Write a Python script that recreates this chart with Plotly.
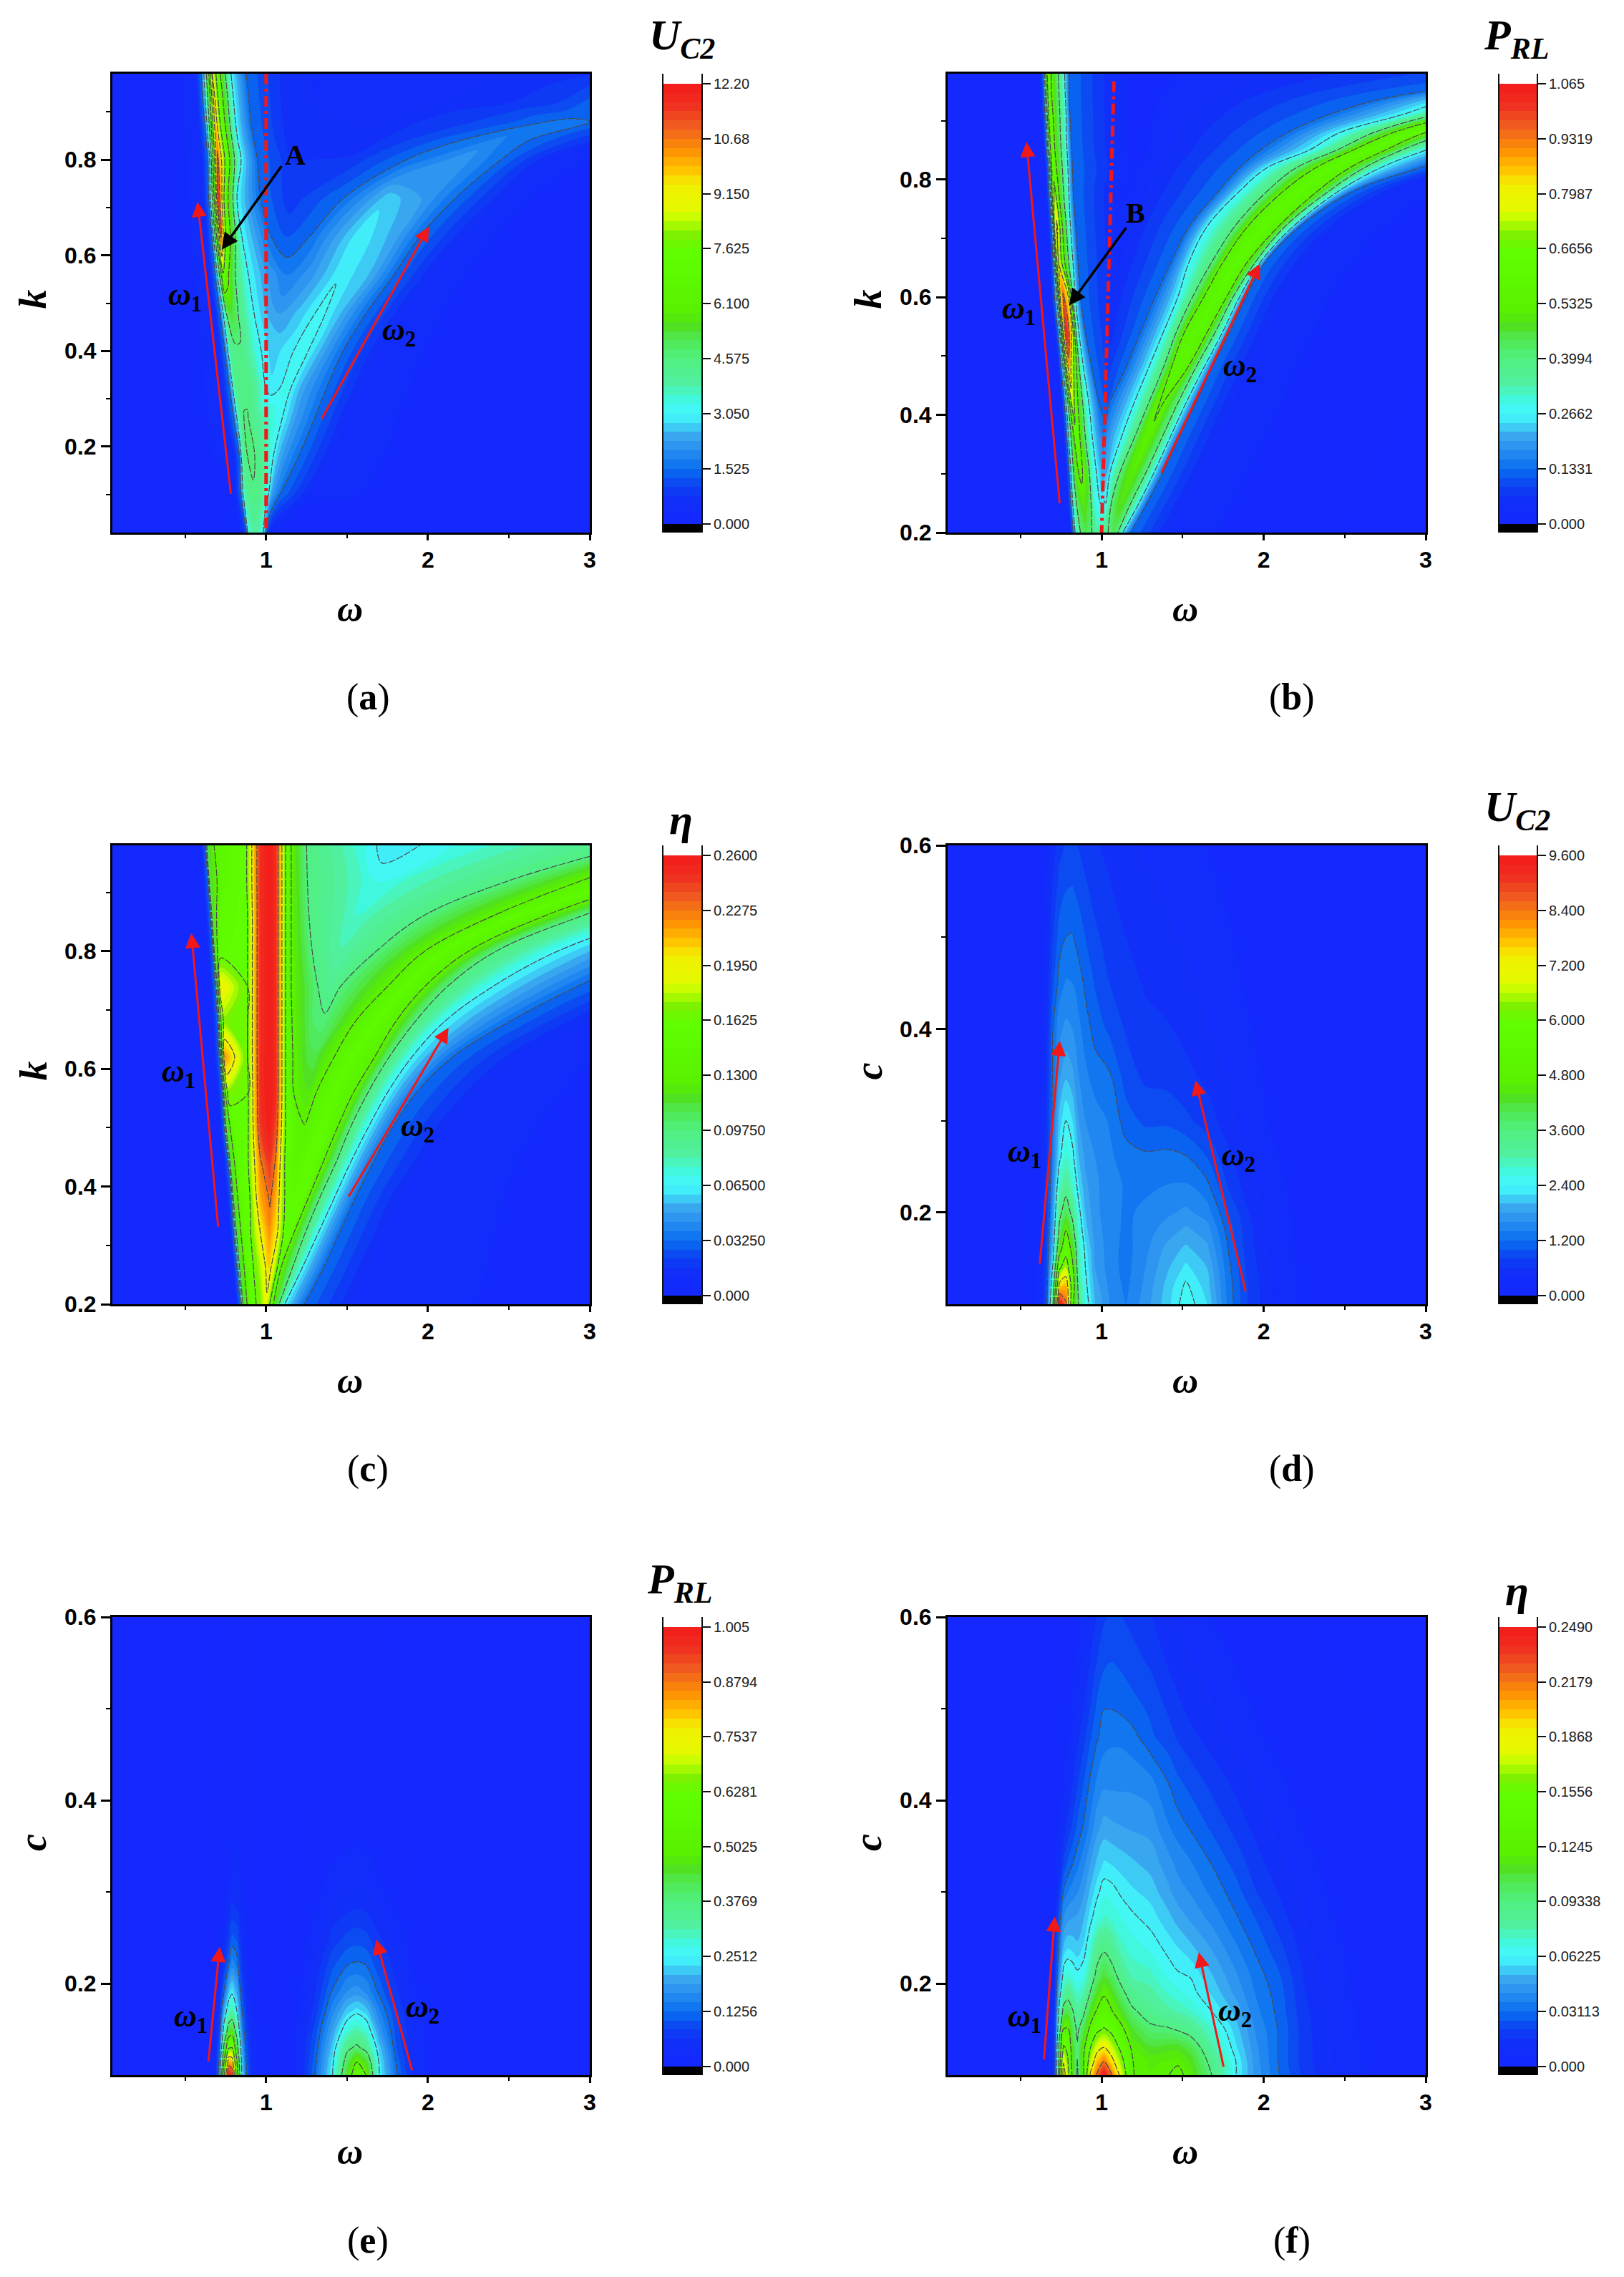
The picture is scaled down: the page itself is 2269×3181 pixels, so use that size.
import plotly.graph_objects as go

# ---------- panel (a): U_C2 over (omega, k) ----------
A_K = [.02,.10,.18,.26,.32,.40,.48,.56,.64,.72,.80,.84,.88,.92,.98]
A_OMEGA = [
 [.05,.82,.865,.88,.885,.90,.92,.94,.96,.98,.99,1.0,1.01,1.02,1.05,1.15,3],
 [.05,.80,.845,.86,.875,.90,.93,.95,.97,.99,1.0,1.015,1.035,1.06,1.085,1.3,3],
 [.05,.79,.835,.85,.865,.885,.905,.93,.96,1.0,1.025,1.045,1.08,1.12,1.2,1.45,3],
 [.05,.74,.80,.825,.85,.865,.875,.89,.93,.98,1.03,1.07,1.10,1.18,1.30,1.55,3],
 [.05,.72,.775,.80,.82,.86,.90,.95,1.0,1.04,1.08,1.12,1.15,1.22,1.37,1.63,3],
 [.05,.70,.745,.77,.785,.82,.85,.89,.97,1.03,1.09,1.17,1.215,1.26,1.475,1.75,3],
 [.05,.67,.715,.74,.755,.78,.80,.83,.925,1.0,1.08,1.2,1.34,1.47,1.62,1.9,3],
 [.05,.64,.685,.715,.735,.76,.785,.81,.89,1.0,1.13,1.28,1.46,1.65,1.79,2.08,3],
 [.05,.62,.665,.70,.72,.745,.77,.80,.85,1.03,1.13,1.27,1.58,1.8,1.95,2.3,3],
 [.05,.6,.645,.685,.705,.74,.765,.795,.82,.965,1.15,1.48,1.75,2.0,2.17,2.55,3],
 [.05,.59,.64,.675,.70,.745,.775,.805,.845,.945,1.17,1.5,1.87,2.2,2.45,2.8,3],
 [.05,.58,.63,.665,.695,.73,.76,.79,.825,.925,1.15,1.6,2.2,2.42,2.62,3,3.3],
 [.05,.57,.62,.66,.685,.715,.745,.775,.81,.905,1.13,1.6,2.4,2.74,2.9,3,3.3],
 [.05,.56,.61,.655,.68,.705,.735,.765,.80,.895,1.12,1.45,2.0,2.5,2.8,3,3.3],
 [.05,.55,.6,.645,.665,.69,.717,.748,.783,.876,1.1,1.4,1.9,2.4,2.7,3,3.3],
]
A_Z = [
 [0,.1,.8,1.525,3,3.6,3.9,3.9,3.7,3.2,2.5,1.525,.9,.6,.3,.1,.02],
 [0,.2,1.525,3.4,4,4.3,4.5,4.4,4.1,3.7,3.4,3.05,2.3,1.9,1.525,.3,.03],
 [0,.3,1.525,3.5,4.4,4.575,4.7,4.575,4.3,3.8,3.4,3.05,2.5,2.1,1.525,.3,.05],
 [0,.3,1.525,3.5,4.4,4.6,4.65,4.575,4.2,3.8,3.5,3.2,3.05,2.3,1.525,.3,.05],
 [0,.3,1.525,3.5,4.4,4.5,4.4,3.9,3.05,2.85,3.05,3.4,3.05,2.4,1.525,.3,.05],
 [0,.3,1.525,3.5,4.3,4.4,4.4,4,3.05,2.7,2.8,3.05,3.3,3.05,1.525,.3,.05],
 [0,.3,1.525,3.5,4.6,5.4,5.2,4.5,3.05,2.55,2.25,2.6,3.2,2.5,1.525,.3,.05],
 [0,.3,1.525,5,7.5,6.4,5.5,4.575,3.05,2.3,1.75,2.2,3,2.5,1.525,.3,.05],
 [0,.3,1.525,7,11,8,6.6,5,3.05,1.525,1.25,1.525,3,2.4,1.525,.3,.05],
 [0,.3,1.525,7,11.8,7.6,6.1,4.575,3.05,1.525,.85,1.525,2.7,2.2,1.525,.3,.1],
 [0,.3,1.525,6.5,11,7.6,6.1,4.575,3.05,1.525,.75,.8,1.525,2.2,1.525,.35,.25],
 [0,.3,1.525,6,10.3,7.6,6.1,4.575,3.05,1.525,.65,.6,1.525,1.85,1.525,.8,.5],
 [0,.3,1.525,6,10,7.6,6.1,4.575,3.05,1.525,.65,.5,1.1,1.525,1.62,1.525,1.2],
 [0,.3,1.525,6,9.7,7.6,6.1,4.575,3.05,1.525,.65,.4,.5,.75,1.0,1.35,1.5],
 [0,.3,1.525,6,9.3,7.6,6.1,4.575,3.05,1.525,.7,.4,.4,.5,.6,.75,.9],
]
A_TICKS = [0,1.525,3.05,4.575,6.1,7.625,9.15,10.68,12.2]
A_LABELS = ["0.000","1.525","3.050","4.575","6.100","7.625","9.150","10.68","12.20"]

# ---------- panel (b): P_RL over (omega, k) ----------
B_K = [.2,.25,.3,.36,.42,.48,.54,.6,.66,.72,.78,.82,.85,.88,.91,.94,.98]
B_OMEGA = [
 [.05,.80,.825,.84,.87,.905,.94,.975,.99,1.005,1.01,1.02,1.04,1.05,1.07,1.085,1.1,1.13,1.18,1.45,2.45],
 [.05,.785,.81,.825,.855,.89,.925,.955,.985,1.005,1.015,1.025,1.06,1.09,1.12,1.15,1.18,1.23,1.28,1.55,2.55],
 [.05,.775,.80,.815,.84,.87,.905,.945,.98,1.005,1.03,1.05,1.11,1.15,1.19,1.22,1.27,1.32,1.375,1.65,2.65],
 [.05,.76,.785,.80,.825,.845,.875,.925,.985,1.01,1.03,1.12,1.2,1.24,1.28,1.31,1.37,1.42,1.475,1.75,2.75],
 [.05,.745,.77,.785,.805,.82,.85,.905,.985,1.03,1.05,1.2,1.29,1.33,1.37,1.40,1.47,1.52,1.58,1.85,2.85],
 [.05,.725,.75,.765,.785,.80,.83,.875,.94,1.04,1.15,1.29,1.38,1.43,1.48,1.53,1.58,1.63,1.68,1.95,2.95],
 [.05,.705,.73,.745,.765,.785,.815,.85,.90,1.06,1.24,1.38,1.46,1.51,1.59,1.65,1.70,1.745,1.79,2.05,3.05],
 [.05,.685,.71,.725,.745,.765,.795,.83,.87,1.07,1.33,1.47,1.56,1.63,1.71,1.77,1.81,1.85,1.89,2.15,3.15],
 [.05,.675,.70,.71,.72,.735,.77,.815,.855,1.1,1.43,1.54,1.68,1.75,1.84,1.90,1.95,1.98,2.01,2.3,3.3],
 [.05,.665,.69,.70,.71,.725,.755,.80,.84,1.12,1.54,1.65,1.82,1.9,2.0,2.09,2.13,2.18,2.22,2.5,3.5],
 [.05,.65,.675,.685,.695,.71,.74,.79,.825,1.15,1.72,1.85,2.02,2.12,2.22,2.33,2.4,2.46,2.55,2.85,3.85],
 [.05,.645,.67,.68,.69,.70,.73,.785,.82,1.2,1.85,2.02,2.2,2.32,2.42,2.53,2.62,2.72,2.96,3.25,4.25],
 [.05,.635,.66,.67,.68,.695,.72,.78,.815,1.2,1.98,2.28,2.45,2.55,2.65,2.75,2.85,3.0,3.3,3.6,4.6],
 [.05,.63,.655,.665,.675,.69,.715,.775,.81,1.2,2.15,2.47,2.68,2.8,2.95,3.0,3.15,3.35,3.7,4.0,5.0],
 [.05,.625,.65,.66,.67,.68,.71,.775,.805,1.2,2.4,2.85,3.05,3.2,3.35,3.5,3.6,3.8,4.1,4.4,5.4],
 [.05,.62,.645,.655,.665,.675,.705,.77,.80,1.2,2.78,3.2,3.6,3.75,3.9,4.05,4.2,4.4,4.7,5.0,6.0],
 [.05,.615,.64,.65,.66,.67,.70,.765,.80,1.2,3.9,4.3,4.6,4.8,5.0,5.2,5.4,5.6,5.9,6.2,7.2],
]
B_Z = [
 [0,.01,.1331,.3,.4,.45,.4,.34,.33,.35,.36,.38,.3993,.41,.44,.42,.3993,.2662,.1331,.03,0],
 [0,.01,.1331,.3,.45,.5,.45,.3,.27,.26,.27,.2662,.3993,.46,.49,.46,.3993,.2662,.1331,.03,0],
 [0,.01,.1331,.3,.5,.55,.5,.3,.25,.21,.22,.2662,.3993,.48,.51,.48,.3993,.2662,.1331,.03,0],
 [0,.01,.1331,.3,.5,.62,.5,.3,.19,.16,.18,.2662,.3993,.5,.525,.5,.3993,.2662,.1331,.03,0],
 [0,.01,.1331,.3,.55,.74,.55,.3,.1331,.11,.1331,.2662,.3993,.515,.54,.515,.3993,.2662,.1331,.03,0],
 [0,.01,.1331,.3,.7,.88,.65,.3,.1331,.08,.1331,.2662,.3993,.5325,.575,.5325,.3993,.2662,.1331,.03,0],
 [0,.01,.1331,.3,.8,1.06,.8,.3,.1331,.06,.1331,.2662,.3993,.5325,.58,.5325,.3993,.2662,.1331,.03,0],
 [0,.01,.1331,.3,.8,.95,.8,.3,.1331,.05,.1331,.2662,.3993,.5325,.59,.5325,.3993,.2662,.1331,.03,0],
 [0,.01,.1331,.3,.6,.8,.55,.3,.1331,.04,.1331,.2662,.3993,.5325,.6,.5325,.3993,.2662,.1331,.03,0],
 [0,.01,.1331,.3,.7,.82,.55,.3,.1331,.03,.1331,.2662,.3993,.5325,.6,.5325,.3993,.2662,.1331,.03,0],
 [0,.01,.1331,.3,.55,.7,.5,.3,.1331,.02,.1331,.2662,.3993,.5325,.6,.5325,.3993,.2662,.1331,.03,0],
 [0,.01,.1331,.3,.5,.62,.5,.3,.1331,.02,.1331,.2662,.3993,.5325,.6,.5325,.3993,.2662,.1331,.03,0],
 [0,.01,.1331,.3,.5,.6,.5,.3,.1331,.01,.1331,.2662,.3993,.5325,.6,.5325,.3993,.2662,.1331,.03,0],
 [0,.01,.1331,.3,.5,.6,.5,.3,.1331,.01,.1331,.2662,.3993,.5325,.6,.5325,.3993,.2662,.1331,.03,0],
 [0,.01,.1331,.3,.5,.6,.5,.3,.1331,.01,.1331,.2662,.3993,.5325,.6,.5325,.3993,.2662,.1331,.03,0],
 [0,.01,.1331,.3,.5,.58,.5,.3,.1331,.01,.1331,.2662,.3993,.5325,.6,.5325,.3993,.2662,.1331,.03,0],
 [0,.01,.1331,.3,.5,.58,.5,.3,.1331,.01,.1331,.2662,.3993,.5325,.6,.5325,.3993,.2662,.1331,.03,0],
]
B_TICKS = [0,.1331,.2662,.3994,.5325,.6656,.7987,.9319,1.065]
B_LABELS = ["0.000","0.1331","0.2662","0.3994","0.5325","0.6656","0.7987","0.9319","1.065"]

# ---------- panel (c): eta over (omega, k) ----------
C_K = [.2,.26,.32,.38,.44,.5,.56,.62,.68,.74,.8,.86,.92,.98]
C_OMEGA = [
 [.05,.805,.84,.86,.905,.93,.965,1.0,1.02,1.026,1.032,1.036,1.039,1.041,1.043,1.044,1.045,1.08,1.115,1.236,1.55,3.2],
 [.05,.785,.82,.84,.89,.915,.97,1.015,1.05,1.065,1.07,1.075,1.08,1.082,1.084,1.087,1.09,1.16,1.22,1.35,1.65,3.2],
 [.05,.77,.80,.82,.87,.905,.965,1.02,1.07,1.10,1.115,1.125,1.13,1.14,1.15,1.16,1.17,1.24,1.32,1.45,1.75,3.2],
 [.05,.75,.785,.80,.85,.90,.965,1.025,1.065,1.11,1.13,1.14,1.16,1.18,1.2,1.23,1.26,1.33,1.42,1.55,1.85,3.2],
 [.05,.73,.765,.78,.83,.89,.965,1.02,1.06,1.115,1.15,1.17,1.19,1.22,1.25,1.30,1.35,1.43,1.52,1.66,2.0,3.2],
 [.05,.71,.74,.755,.80,.89,.965,1.02,1.06,1.12,1.2,1.22,1.235,1.26,1.30,1.37,1.44,1.52,1.63,1.78,2.15,3.3],
 [.05,.69,.73,.74,.765,.89,.965,1.02,1.06,1.12,1.17,1.23,1.265,1.285,1.31,1.42,1.54,1.63,1.75,1.93,2.35,3.4],
 [.05,.67,.71,.722,.745,.885,.965,1.02,1.06,1.12,1.165,1.26,1.30,1.35,1.42,1.53,1.67,1.76,1.9,2.15,2.6,3.6],
 [.05,.66,.70,.712,.74,.885,.965,1.02,1.06,1.12,1.16,1.29,1.35,1.43,1.55,1.68,1.8,1.92,2.1,2.5,3.0,4],
 [.05,.645,.685,.70,.72,.885,.965,1.02,1.06,1.12,1.155,1.32,1.40,1.46,1.75,1.86,1.98,2.12,2.4,2.92,3.5,4.5],
 [.05,.63,.67,.682,.72,.885,.965,1.02,1.06,1.12,1.155,1.285,1.45,1.68,1.98,2.1,2.25,2.42,2.8,3.4,4,5],
 [.05,.615,.655,.667,.72,.885,.965,1.02,1.06,1.12,1.155,1.265,1.55,1.97,2.4,2.55,2.72,2.95,3.4,3.9,4.6,5.6],
 [.05,.60,.64,.65,.72,.88,.965,1.02,1.06,1.12,1.155,1.255,1.68,2.5,2.95,3.2,3.35,3.6,4,4.4,5.2,6.2],
 [.05,.59,.625,.635,.70,.88,.965,1.02,1.06,1.12,1.155,1.25,1.75,3.25,3.6,3.8,4,4.2,4.5,4.9,5.8,6.8],
]
C_Z = [
 [0,.002,.0325,.11,.15,.16,.17,.19,.165,.155,.148,.143,.139,.136,.133,.131,.13,.0975,.065,.0325,.01,0],
 [0,.002,.0325,.11,.15,.16,.18,.205,.18,.165,.16,.157,.155,.152,.15,.14,.13,.0975,.065,.0325,.01,0],
 [0,.002,.0325,.11,.15,.1625,.195,.22,.195,.165,.158,.155,.153,.152,.152,.145,.13,.0975,.065,.0325,.01,0],
 [0,.002,.0325,.11,.15,.1625,.215,.23,.21,.165,.155,.15,.148,.15,.152,.148,.13,.0975,.065,.0325,.01,0],
 [0,.002,.0325,.11,.15,.1625,.225,.245,.225,.1625,.147,.142,.14,.143,.15,.15,.13,.0975,.065,.0325,.01,0],
 [0,.002,.0325,.11,.15,.1625,.245,.258,.24,.1625,.135,.132,.131,.135,.145,.15,.13,.0975,.065,.0325,.01,0],
 [0,.002,.0325,.11,.17,.1625,.25,.26,.25,.1625,.13,.122,.12,.125,.13,.15,.13,.0975,.065,.0325,.01,0],
 [0,.002,.0325,.11,.22,.1625,.25,.26,.25,.1625,.13,.112,.11,.12,.13,.15,.13,.0975,.065,.0325,.01,0],
 [0,.002,.0325,.11,.17,.1625,.25,.26,.25,.1625,.13,.103,.1,.11,.13,.15,.13,.0975,.065,.0325,.01,0],
 [0,.002,.0325,.11,.195,.1625,.25,.26,.25,.1625,.13,.0975,.09,.0975,.13,.15,.13,.0975,.065,.0325,.01,0],
 [0,.002,.0325,.11,.155,.1625,.25,.26,.25,.1625,.13,.0975,.082,.0975,.13,.15,.13,.0975,.065,.0325,.01,0],
 [0,.002,.0325,.11,.15,.1625,.25,.26,.25,.1625,.13,.0975,.076,.0975,.13,.15,.13,.0975,.065,.0325,.01,0],
 [0,.002,.0325,.11,.14,.1625,.25,.26,.25,.1625,.13,.0975,.07,.0975,.13,.15,.13,.0975,.065,.0325,.01,0],
 [0,.002,.0325,.11,.14,.1625,.25,.26,.25,.1625,.13,.0975,.06,.0975,.13,.15,.13,.0975,.065,.0325,.01,0],
]
C_TICKS = [0,.0325,.065,.0975,.13,.1625,.195,.2275,.26]
C_LABELS = ["0.000","0.03250","0.06500","0.09750","0.1300","0.1625","0.1950","0.2275","0.2600"]

# ---------- panel (d): U_C2 over (omega, c) ----------
D_C = [.10,.12,.14,.16,.18,.20,.23,.26,.30,.35,.40,.45,.50,.55,.60]
D_W = [.05,.55,.62,.66,.70,.74,.78,.82,.86,.90,.96,1.05,1.15,1.27,1.4,1.52,1.65,1.78,1.9,2.05,2.25,3]
D_Z = [
 [0,.05,.35,1.0,3.5,9.6,8.5,5,3.5,2.6,2.0,1.6,1.4,1.7,2.1,2.55,2.2,1.35,.8,.4,.15,.03],
 [0,.05,.3,.9,3,7.5,7.8,5.5,3.2,2.5,1.9,1.55,1.35,1.65,2.05,2.45,2.1,1.32,.8,.4,.15,.03],
 [0,.05,.3,.85,2.5,5.8,6.6,5,3,2.4,1.8,1.5,1.32,1.6,1.95,2.25,2,1.27,.75,.38,.15,.03],
 [0,.05,.25,.8,2.1,4.4,5.6,4.5,2.9,2.3,1.75,1.5,1.32,1.55,1.85,2.05,1.85,1.2,.7,.35,.14,.03],
 [0,.05,.25,.75,1.9,3.8,4.8,3.9,2.7,2.1,1.7,1.5,1.35,1.5,1.7,1.85,1.7,1.12,.68,.33,.13,.03],
 [0,.05,.25,.7,1.75,3.4,4.0,3.4,2.5,2,1.65,1.5,1.36,1.45,1.55,1.65,1.5,1.0,.62,.32,.12,.02],
 [0,.05,.2,.65,1.6,2.8,3.3,2.8,2.2,1.85,1.65,1.47,1.38,1.35,1.4,1.42,1.25,.78,.5,.28,.1,.02],
 [0,.04,.2,.6,1.45,2.3,2.8,2.5,2,1.75,1.6,1.44,1.3,1.25,1.27,1.22,1.0,.65,.42,.24,.09,.02],
 [0,.04,.2,.6,1.35,2.1,2.4,2.2,1.8,1.6,1.5,1.38,1.1,.95,.95,.85,.7,.5,.3,.18,.08,.02],
 [0,.03,.15,.55,1.25,1.75,1.95,1.85,1.6,1.45,1.3,1.22,.9,.75,.72,.65,.55,.4,.28,.15,.07,.02],
 [0,.03,.12,.5,1.2,1.55,1.65,1.6,1.45,1.3,1.12,.95,.78,.65,.62,.55,.42,.3,.22,.13,.06,.01],
 [0,.02,.1,.42,.95,1.3,1.42,1.4,1.3,1.15,.98,.8,.68,.58,.52,.45,.35,.26,.18,.12,.05,.01],
 [0,.02,.1,.35,.8,1.1,1.2,1.22,1.1,1,.85,.7,.6,.5,.45,.38,.3,.22,.15,.1,.04,.01],
 [0,.02,.08,.3,.65,.9,1.0,1.02,.95,.85,.72,.62,.52,.45,.38,.32,.25,.18,.12,.08,.03,.01],
 [0,.02,.06,.22,.5,.72,.82,.85,.78,.7,.62,.55,.46,.38,.32,.26,.2,.15,.1,.06,.02,.01],
]
D_TICKS = [0,1.2,2.4,3.6,4.8,6,7.2,8.4,9.6]
D_LABELS = ["0.000","1.200","2.400","3.600","4.800","6.000","7.200","8.400","9.600"]

# ---------- panel (e): P_RL over (omega, c) ----------
E_C = [.10,.115,.13,.15,.17,.19,.22,.25,.28,.32,.38,.6]
E_W = [.05,.6,.68,.71,.74,.77,.79,.82,.85,.88,.92,.98,1.05,1.12,1.2,1.3,1.41,1.5,1.56,1.62,1.7,1.81,1.9,2.0,2.2,3]
E_Z = [
 [0,0,.03,.15,.6,1.0,.95,.55,.25,.12,.04,.01,0,.01,.03,.125,.25,.45,.56,.5,.25,.125,.06,.02,0,0],
 [0,0,.03,.13,.5,.82,.8,.5,.23,.11,.04,.01,0,.01,.03,.115,.24,.41,.5,.44,.24,.115,.055,.02,0,0],
 [0,0,.02,.11,.4,.62,.63,.42,.2,.1,.03,.01,0,.01,.03,.105,.22,.36,.39,.35,.22,.1,.05,.02,0,0],
 [0,0,.02,.08,.28,.42,.44,.33,.16,.08,.03,.01,0,.01,.03,.09,.19,.28,.31,.28,.18,.09,.045,.015,0,0],
 [0,0,.01,.06,.2,.3,.32,.25,.13,.06,.02,.005,0,.005,.02,.07,.16,.22,.24,.22,.15,.08,.04,.01,0,0],
 [0,0,.01,.04,.13,.22,.245,.2,.1,.05,.015,0,0,0,.02,.06,.13,.17,.18,.165,.12,.065,.03,.01,0,0],
 [0,0,0,.02,.07,.13,.16,.14,.07,.03,.01,0,0,0,.01,.045,.1,.125,.13,.125,.09,.05,.02,.005,0,0],
 [0,0,0,.01,.04,.08,.11,.1,.05,.02,0,0,0,0,.01,.03,.07,.09,.095,.09,.065,.035,.015,0,0,0],
 [0,0,0,0,.02,.05,.07,.065,.03,.01,0,0,0,0,0,.02,.05,.06,.065,.06,.045,.02,.01,0,0,0],
 [0,0,0,0,.01,.02,.03,.03,.015,0,0,0,0,0,0,.01,.025,.03,.03,.03,.02,.01,0,0,0,0],
 [0,0,0,0,.005,.01,.012,.012,.005,0,0,0,0,0,0,0,.005,.01,.012,.01,.005,0,0,0,0,0],
 [0,0,0,0,0,0,0,0,0,0,0,0,0,0,0,0,0,0,0,0,0,0,0,0,0,0],
]
E_TICKS = [0,.1256,.2512,.3769,.5025,.6281,.7537,.8794,1.005]
E_LABELS = ["0.000","0.1256","0.2512","0.3769","0.5025","0.6281","0.7537","0.8794","1.005"]

# ---------- panel (f): eta over (omega, c) ----------
F_C = [.10,.115,.13,.15,.17,.19,.21,.24,.27,.30,.33,.37,.42,.47,.50,.55,.6]
F_W = [.05,.6,.68,.71,.74,.765,.79,.82,.85,.89,.93,.97,1.015,1.06,1.12,1.19,1.3,1.41,1.47,1.55,1.68,1.83,1.95,2.1,2.25,2.4,2.62,3]
F_Z = [
 [0,0,.002,.02,.12,.2,.17,.12,.09,.125,.19,.22,.249,.22,.18,.125,.12,.124,.13,.118,.0934,.0622,.045,.031,.019,.012,.006,0],
 [0,0,.002,.02,.11,.185,.16,.115,.093,.125,.17,.2,.217,.195,.165,.125,.118,.12,.122,.113,.088,.062,.044,.03,.018,.011,.005,0],
 [0,0,.002,.02,.105,.16,.15,.112,.095,.12,.155,.178,.188,.175,.15,.12,.11,.112,.112,.105,.08,.058,.043,.03,.018,.011,.005,0],
 [0,0,.002,.02,.085,.125,.127,.105,.09,.105,.13,.15,.158,.15,.13,.11,.097,.095,.092,.086,.072,.054,.041,.03,.018,.01,.004,0],
 [0,0,.002,.018,.07,.1,.105,.095,.082,.09,.11,.126,.134,.126,.112,.096,.086,.08,.077,.073,.062,.05,.038,.029,.017,.01,.004,0],
 [0,0,.002,.016,.055,.08,.086,.08,.072,.078,.094,.11,.122,.114,.098,.085,.08,.072,.069,.065,.056,.045,.036,.028,.016,.009,.003,0],
 [0,0,.001,.014,.045,.066,.07,.068,.064,.067,.082,.097,.107,.1,.087,.076,.074,.066,.063,.0615,.052,.042,.034,.026,.015,.008,.003,0],
 [0,0,.001,.012,.035,.052,.056,.055,.053,.058,.07,.085,.09,.085,.074,.07,.066,.06,.057,.053,.046,.037,.03,.022,.013,.007,.003,0],
 [0,0,.001,.01,.028,.042,.046,.047,.048,.052,.06,.068,.074,.072,.068,.064,.06,.054,.05,.046,.04,.032,.026,.018,.011,.006,.002,0],
 [0,0,.001,.006,.018,.032,.036,.039,.041,.046,.053,.06,.066,.065,.061,.058,.055,.048,.044,.041,.035,.028,.021,.015,.009,.005,.002,0],
 [0,0,0,.004,.012,.022,.027,.031,.035,.04,.047,.053,.058,.057,.055,.053,.05,.044,.04,.037,.031,.024,.018,.012,.007,.004,.001,0],
 [0,0,0,.002,.007,.012,.017,.022,.027,.032,.038,.045,.049,.048,.047,.046,.045,.037,.034,.0305,.025,.019,.014,.009,.005,.003,.001,0],
 [0,0,0,.001,.003,.006,.01,.015,.02,.026,.032,.037,.04,.04,.04,.04,.038,.031,.027,.024,.019,.014,.01,.006,.003,.002,0,0],
 [0,0,0,0,.002,.003,.005,.01,.014,.019,.025,.03,.034,.035,.035,.033,.027,.023,.02,.017,.013,.009,.006,.004,.002,.001,0,0],
 [0,0,0,0,.001,.002,.003,.007,.011,.015,.021,.027,.031,.031,.03,.028,.025,.02,.017,.014,.011,.007,.005,.003,.002,.001,0,0],
 [0,0,0,0,0,.001,.002,.004,.007,.011,.016,.021,.025,.026,.025,.023,.02,.015,.013,.011,.008,.005,.003,.002,.001,0,0,0],
 [0,0,0,0,0,0,.001,.002,.004,.008,.012,.016,.02,.022,.021,.019,.016,.012,.01,.008,.005,.003,.002,.001,0,0,0,0],
]
F_TICKS = [0,.03113,.06225,.09338,.1245,.1556,.1868,.2179,.249]
F_LABELS = ["0.000","0.03113","0.06225","0.09338","0.1245","0.1556","0.1868","0.2179","0.2490"]

# ---------- annotations (data coordinates) ----------
ARROWS_W1 = [(.783,.099,.576,.712),(.742,.248,.536,.864),(.704,.33,.538,.831),(.618,.143,.742,.387),(.643,.114,.713,.24),(.644,.116,.711,.273)]
ARROWS_W2 = [(1.34,.256,2.006,.66),(1.366,.30,1.976,.657),(1.506,.381,2.127,.67),(1.89,.113,1.579,.344),(1.904,.104,1.68,.248),(1.754,.108,1.6,.234)]
LABEL_W1 = [(.5,.514),(.49,.578),(.46,.593),(.523,.264),(.535,.162),(.523,.162)]
LABEL_W2 = [(1.82,.44),(1.855,.481),(1.936,.50),(1.843,.26),(1.968,.172),(1.824,.168)]
RED_LINES = {0:([1.0,1.0],[.98,.02]), 1:([1.076,1.0],[.967,.2])}
BLACK_ARROWS = {0:(1.10,.789,.726,.612,"A",1.18,.81), 1:(1.156,.72,.80,.586,"B",1.21,.743)}

W, H = 2269, 3181
COL_X = [(157,824,927,980),(1324,1992,2095,2147)]
ROW_Y = [(103,744),(1181,1822),(2259,2899)]
SERIF = "Liberation Serif"
SANS = "Liberation Sans"

STOPS = [(0,"#1428ff"),(.06,"#1030f8"),(.10,"#0a50f0"),(.125,"#0a70f0"),(.17,"#2a90f0"),(.2,"#3aa8f0"),
         (.235,"#40e8f8"),(.25,"#45f8ff"),(.28,"#40f8e0"),(.32,"#50f0a0"),(.375,"#50f080"),(.42,"#50e850"),
         (.45,"#50e020"),(.48,"#58f000"),(.62,"#60ff00"),(.66,"#80f000"),(.69,"#c0ff00"),(.72,"#e8f800"),
         (.77,"#f0f000"),(.80,"#ffc800"),(.84,"#ff9900"),(.9,"#f06020"),(.95,"#f03020"),(1,"#f41a1a")]
BELOW = 0.0203
ABOVE = 0.0228
BANDS = 48

FILL_SCALE = [[f,c] for f,c in STOPS]
BAR_SCALE = [[0,"#000000"],[BELOW/(1+BELOW)-1e-6,"#000000"]]+[[(f+BELOW)/(1+BELOW),c] for f,c in STOPS]

PANELS = [
 dict(tag="a",o=A_OMEGA,y=A_K,z=A_Z,t=A_TICKS,l=A_LABELS,yr=[.02,.98],yt=[.2,.4,.6,.8],ym=[.1,.3,.5,.7,.9],yl="k",
      title="<b><i>U<sub>C2</sub></i></b>",tp=(953,54)),
 dict(tag="b",o=B_OMEGA,y=B_K,z=B_Z,t=B_TICKS,l=B_LABELS,yr=[.2,.98],yt=[.2,.4,.6,.8],ym=[.3,.5,.7,.9],yl="k",
      title="<b><i>P<sub>RL</sub></i></b>",tp=(2118,54)),
 dict(tag="c",o=C_OMEGA,y=C_K,z=C_Z,t=C_TICKS,l=C_LABELS,yr=[.2,.98],yt=[.2,.4,.6,.8],ym=[.3,.5,.7,.9],yl="k",
      title="<b><i>η</i></b>",tp=(951,1145)),
 dict(tag="d",o=[D_W]*len(D_C),y=D_C,z=D_Z,t=D_TICKS,l=D_LABELS,yr=[.1,.6],yt=[.2,.4,.6],ym=[.3,.5],yl="c",
      title="<b><i>U<sub>C2</sub></i></b>",tp=(2120,1131)),
 dict(tag="e",o=[E_W]*len(E_C),y=E_C,z=E_Z,t=E_TICKS,l=E_LABELS,yr=[.1,.6],yt=[.2,.4,.6],ym=[.3,.5],yl="c",
      title="<b><i>P<sub>RL</sub></i></b>",tp=(949,2210)),
 dict(tag="f",o=[F_W]*len(F_C),y=F_C,z=F_Z,t=F_TICKS,l=F_LABELS,yr=[.1,.6],yt=[.2,.4,.6],ym=[.3,.5],yl="c",
      title="<b><i>η</i></b>",tp=(2119,2222)),
]

fig = go.Figure()
layout = dict(width=W,height=H,margin=dict(l=0,r=0,t=0,b=0,pad=0,autoexpand=False),paper_bgcolor="white",plot_bgcolor="white",
              showlegend=False)
annots, shapes = [], []

def px(x): return x/W
def py(y): return 1-y/H

def text(x,y,s,size,angle=0,family=SERIF):
    annots.append(dict(xref="paper",yref="paper",x=px(x),y=py(y),text=s,showarrow=False,textangle=angle,
                       xanchor="center",yanchor="middle",font=dict(family=family,size=size,color="black")))

for i,p in enumerate(PANELS):
    row,col = i//2, i%2
    l,r,bl,br = COL_X[col]
    t,b = ROW_Y[row]
    n1 = 2*i+1; n2 = 2*i+2
    xa = "x" if n1==1 else f"x{n1}"
    ya = "y" if n1==1 else f"y{n1}"
    xb, yb = f"x{n2}", f"y{n2}"
    M = p["t"][-1]
    step = p["t"][1]
    nrow, ncol = len(p["y"]), len(p["o"][0])
    for rowvals, zvals in zip(p["o"],p["z"]):
        assert len(rowvals)==ncol and len(zvals)==ncol, (p["tag"],len(rowvals),len(zvals),ncol)
    cid = "carpet_"+p["tag"]
    hidden = dict(smoothing=0,showgrid=False,showline=False,showticklabels="none",startline=False,endline=False,
                  minorgridcount=0,gridcolor="rgba(0,0,0,0)",linecolor="rgba(0,0,0,0)",type="linear")
    fig.add_trace(go.Carpet(carpet=cid,a=list(range(ncol)),b=list(range(nrow)),
                            x=p["o"],y=[[k]*ncol for k in p["y"]],aaxis=hidden,baxis=hidden,xaxis=xa,yaxis=ya))
    fig.add_trace(go.Contourcarpet(carpet=cid,a=list(range(ncol)),b=list(range(nrow)),z=p["z"],
                                   autocontour=False,showscale=False,colorscale=FILL_SCALE,zmin=0,zmax=M,
                                   contours=dict(start=0,end=M,size=M/BANDS,coloring="fill",showlines=False),
                                   line=dict(width=0)))
    fig.add_trace(go.Contourcarpet(carpet=cid,a=list(range(ncol)),b=list(range(nrow)),z=p["z"],
                                   autocontour=False,showscale=False,
                                   contours=dict(start=step,end=M,size=step,coloring="none",showlines=True),
                                   line=dict(color="#4a4a4a",width=1.2,dash="10px,2px")))
    if i in RED_LINES:
        fig.add_trace(go.Scatter(x=RED_LINES[i][0],y=RED_LINES[i][1],mode="lines",xaxis=xa,yaxis=ya,hoverinfo="skip",
                                 line=dict(color="#f01818",width=5,dash="15px,6px,4px,6px")))
    # colour bar as a one-column heatmap on its own axis
    edges = [-BELOW*M]+[M*j/BANDS for j in range(BANDS+1)]
    mids = [-BELOW*M/2]+[M*(j+.5)/BANDS for j in range(BANDS)]
    fig.add_trace(go.Heatmap(x=[0,1],y=edges,z=[[m] for m in mids],colorscale=BAR_SCALE,zmin=-BELOW*M,zmax=M,
                             showscale=False,xaxis=xb,yaxis=yb,hoverinfo="skip"))
    axname = lambda n,c: (c+"axis") if n==1 else f"{c}axis{n}"
    tickf = dict(family=SANS,size=32,color="black",weight=700)
    layout[axname(n1,"x")] = dict(domain=[px(l),px(r)],range=[.05,3],anchor=ya,tickvals=[1,2,3],ticks="outside",ticklen=8,
        tickwidth=3,tickcolor="black",showline=True,linewidth=3,linecolor="black",mirror=True,showgrid=False,zeroline=False,
        tickfont=tickf,minor=dict(tickvals=[.5,1.5,2.5],ticks="outside",ticklen=5,tickwidth=2,tickcolor="black",showgrid=False))
    layout[axname(n1,"y")] = dict(domain=[py(b),py(t)],range=p["yr"],anchor=xa,tickvals=p["yt"],ticktext=[f"{v:.1f}" for v in p["yt"]],
        ticks="outside",ticklen=13,tickwidth=3,tickcolor="black",showline=True,linewidth=3,linecolor="black",mirror=True,
        showgrid=False,zeroline=False,tickfont=tickf,
        minor=dict(tickvals=p["ym"],ticks="outside",ticklen=6,tickwidth=2,tickcolor="black",showgrid=False))
    layout[axname(n2,"x")] = dict(domain=[px(bl),px(br)],range=[0,1],anchor=yb,visible=False)
    layout[axname(n2,"y")] = dict(domain=[py(b),py(t)],range=[-BELOW*M,(1+ABOVE)*M],anchor=xb,side="right",
        tickvals=p["t"],ticktext=p["l"],ticks="outside",ticklen=11,tickwidth=2,tickcolor="#111",showline=True,
        linewidth=2,linecolor="#111",mirror=True,showgrid=False,zeroline=False,
        tickfont=dict(family=SANS,size=20,color="#222"))
    # base colour under the filled contours
    shapes.append(dict(type="rect",layer="below",xref=f"{xa} domain",yref=f"{ya} domain",x0=0,x1=1,y0=0,y1=1,
                       fillcolor="#1428ff",line=dict(width=0)))
    # arrows and their labels
    for arr in (ARROWS_W1[i],ARROWS_W2[i]):
        annots.append(dict(xref=xa,yref=ya,axref=xa,ayref=ya,x=arr[2],y=arr[3],ax=arr[0],ay=arr[1],text="",showarrow=True,
                           arrowhead=2,arrowsize=1.4,arrowwidth=3,arrowcolor="#f01818",standoff=0,startstandoff=0))
    for pos,sub in ((LABEL_W1[i],"1"),(LABEL_W2[i],"2")):
        annots.append(dict(xref=xa,yref=ya,x=pos[0],y=pos[1],showarrow=False,xanchor="center",yanchor="middle",
                           text=f"<b><i>ω</i><sub>{sub}</sub></b>",font=dict(family=SERIF,size=44,color="black")))
    if i in BLACK_ARROWS:
        ba = BLACK_ARROWS[i]
        annots.append(dict(xref=xa,yref=ya,axref=xa,ayref=ya,x=ba[2],y=ba[3],ax=ba[0],ay=ba[1],text="",showarrow=True,
                           arrowhead=2,arrowsize=1.3,arrowwidth=3.5,arrowcolor="black",standoff=0))
        annots.append(dict(xref=xa,yref=ya,x=ba[5],y=ba[6],text=f"<b>{ba[4]}</b>",showarrow=False,
                           font=dict(family=SERIF,size=40,color="black")))
    # text around the panel
    text((l+r)/2-2,b+107,"<b><i>ω</i></b>",50)
    text(l-111,(t+b)/2-5,f"<b><i>{p['yl']}</i></b>",54,angle=-90)
    text(p["tp"][0],p["tp"][1],p["title"],60)
    text(514 if col==0 else 1805, t+871,f"(<b>{p['tag']}</b>)",52)

layout["annotations"] = annots
layout["shapes"] = shapes
fig.update_layout(**layout)
fig.write_html("out.html",config=dict(displayModeBar=False),post_script="document.body.style.margin='0';")
